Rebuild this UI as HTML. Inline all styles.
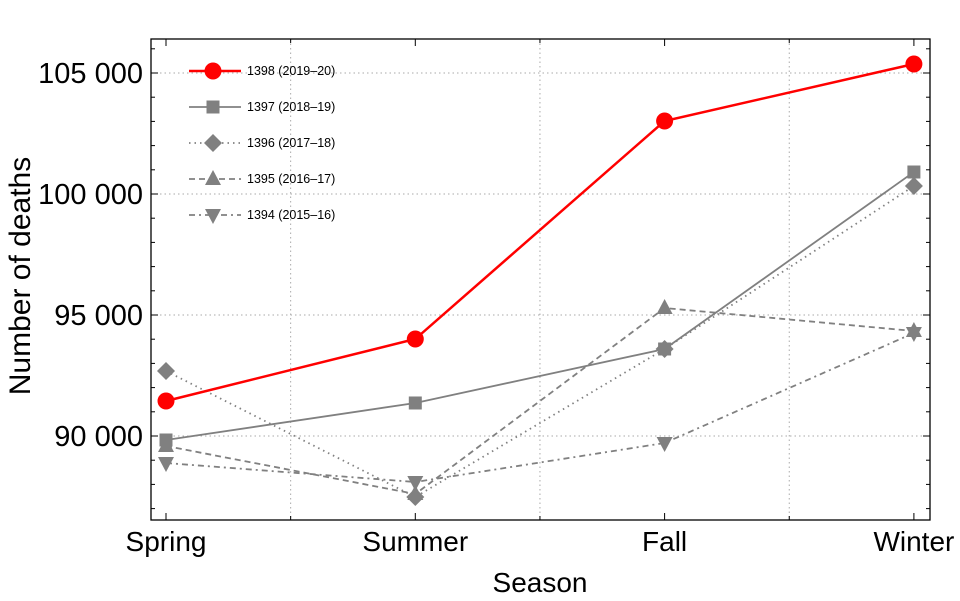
<!DOCTYPE html>
<html><head><meta charset="utf-8"><style>
body{margin:0;background:#fff}
svg{display:block;font-family:"Liberation Sans",Arial,sans-serif}
</style></head><body>
<svg id="chart" width="960" height="601"></svg>
<script>
const categories=["Spring","Summer","Fall","Winter"];
const seriesNames=["1398 (2019–20)","1397 (2018–19)","1396 (2017–18)","1395 (2016–17)","1394 (2015–16)"];
const s1398=[91446,94008,103017,105372];
const s1397=[89835,91364,93595,100909];
const s1396=[92686,87479,93595,100331];
const s1395=[89587,87603,95289,94339];
const s1394=[88884,88099,89711,94256];
const yTicks=[90000,95000,100000,105000];
const yTickLabels=["90 000","95 000","100 000","105 000"];

const NS="http://www.w3.org/2000/svg";
const svg=document.getElementById('chart');
const L=151,R=930,T=39,B=520;
const yMin=86529,yMax=106405;
function xs(i){return 166+i*249.3;}
function ys(v){return B-(v-yMin)/(yMax-yMin)*(B-T);}
function mk(tag,attrs,parent){const e=document.createElementNS(NS,tag);for(const k in attrs)e.setAttribute(k,attrs[k]);(parent||svg).appendChild(e);return e;}

for(const v of yTicks){const g=mk('line',{x1:L,x2:R,y1:ys(v),y2:ys(v),stroke:'#aaa','stroke-dasharray':'1.5,3','stroke-width':1});

}
for(let i=0;i<3;i++){const x=(xs(i)+xs(i+1))/2;const g=mk('line',{x1:x,x2:x,y1:T,y2:B,stroke:'#aaa','stroke-dasharray':'1.5,3','stroke-width':1});

}
const fr=mk('rect',{x:L,y:T,width:R-L,height:B-T,fill:'none',stroke:'#000','stroke-width':1.3});


for(let v=87000;v<=106000;v+=1000){const major=v%5000===0;const y=ys(v);
mk('line',{x1:L,x2:L+(major?7:4),y1:y,y2:y,stroke:'#000'});mk('line',{x1:R,x2:R-(major?7:4),y1:y,y2:y,stroke:'#000'});}
yTicks.forEach((v,i)=>{const t=mk('text',{x:L-8,y:ys(v)+10,'text-anchor':'end','font-size':29});t.textContent=yTickLabels[i];

});
categories.forEach((c,i)=>{mk('line',{x1:xs(i),x2:xs(i),y1:B,y2:B-7,stroke:'#000'});mk('line',{x1:xs(i),x2:xs(i),y1:T,y2:T+7,stroke:'#000'});
const t=mk('text',{x:xs(i),y:B+31,'text-anchor':'middle','font-size':28});t.textContent=c;

});
for(let i=0;i<3;i++){const x=(xs(i)+xs(i+1))/2;mk('line',{x1:x,x2:x,y1:B,y2:B-4,stroke:'#000'});mk('line',{x1:x,x2:x,y1:T,y2:T+4,stroke:'#000'});}
let t=mk('text',{x:540,y:592,'text-anchor':'middle','font-size':28});t.textContent='Season';


t=mk('text',{x:0,y:0,'text-anchor':'middle','font-size':30,transform:'translate(30,276) rotate(-90)'});t.textContent='Number of deaths';



function marker(type,x,y,color,parent){
 if(type==='circle')return mk('circle',{cx:x,cy:y,r:8.5,fill:color},parent);
 if(type==='square')return mk('rect',{x:x-6.5,y:y-6.5,width:13,height:13,fill:color},parent);
 if(type==='diamond')return mk('polygon',{points:`${x},${y-9} ${x+9},${y} ${x},${y+9} ${x-9},${y}`,fill:color},parent);
 if(type==='up')return mk('polygon',{points:`${x},${y-9} ${x+8},${y+6} ${x-8},${y+6}`,fill:color},parent);
 return mk('polygon',{points:`${x},${y+9} ${x+8},${y-6} ${x-8},${y-6}`,fill:color},parent);
}
const series=[
 {d:s1394,c:'#808080',w:1.8,dash:'6,4,2,4',m:'down',n:'series-1394'},
 {d:s1395,c:'#808080',w:1.8,dash:'6,4',m:'up',n:'series-1395'},
 {d:s1396,c:'#808080',w:1.8,dash:'1.5,4',m:'diamond',n:'series-1396'},
 {d:s1397,c:'#808080',w:1.8,dash:'',m:'square',n:'series-1397'},
 {d:s1398,c:'#ff0000',w:2.5,dash:'',m:'circle',n:'series-1398'}];
series.forEach(s=>{const g=mk('g',{});


 const p=mk('polyline',{points:s.d.map((v,i)=>xs(i)+','+ys(v)).join(' '),fill:'none',stroke:s.c,'stroke-width':s.w,'stroke-dasharray':s.dash},g);
 
 
 s.d.forEach((v,i)=>{const m=marker(s.m,xs(i),ys(v),s.c,g);
 
 });});
const lg=mk('g',{});


const legOrder=[4,3,2,1,0];
legOrder.forEach((si,k)=>{const s=series[si];const y=71+k*36;
 const e=mk('g',{},lg);
 
 
 mk('line',{x1:189,x2:241,y1:y,y2:y,stroke:s.c,'stroke-width':s.w,'stroke-dasharray':s.dash},e);
 marker(s.m,213,y,s.c,e);
 const tx=mk('text',{x:247,y:y+4,'font-size':12.5},e);tx.textContent=seriesNames[k];});
</script>
</body></html>
